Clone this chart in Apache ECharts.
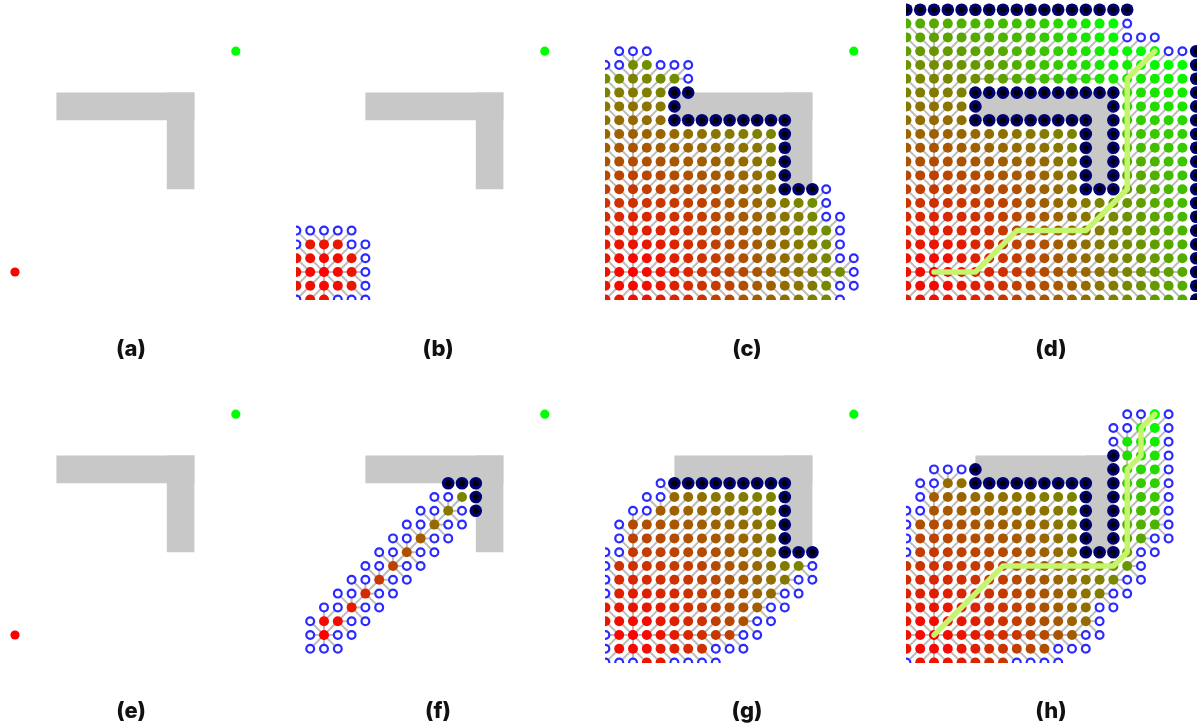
<!DOCTYPE html>
<html>
<head>
<meta charset="utf-8">
<script src="https://cdn.jsdelivr.net/npm/echarts@6/dist/echarts.min.js"></script>
<style>
  html, body { margin: 0; padding: 0; background: #ffffff; }
  #chart { width: 1197px; height: 726px; }
</style>
</head>
<body>
<div id="chart"></div>
<script>
// Grid coordinates: the start node sits at (0,0), the goal at (16,16).
const startNode = [0, 0];
const goalNode = [16, 16];
// Wall blocks as [x0, y0, x1, y1] in grid units (an L-shaped wall).
const wallBlocks = [[3, 11, 13, 13], [11, 6, 13, 13]];

// Node sets are written as row runs: [y, xFrom, xTo].
// (b) Dijkstra, early
const closedB = [[2, -1, 1], [1, -2, 2], [0, -2, 2], [-1, -2, 2], [-2, -1, 0]];
const openB = [[3, -2, 2], [2, -2, -2], [2, 2, 3], [1, 3, 3], [0, 3, 3], [-1, 3, 3], [-2, -2, -2], [-2, 1, 3]];

// (c) Dijkstra, reaching the wall
const closedC = [[15, 0, 1], [14, -2, 3], [13, -2, 2], [12, -2, 2], [11, -2, 2], [10, -2, 10], [9, -2, 10],
  [8, -2, 10], [7, -2, 10], [6, -2, 10], [5, -2, 13], [4, -2, 13], [3, -2, 14], [2, -2, 14], [1, -2, 14],
  [0, -2, 15], [-1, -2, 14], [-2, -2, 14]];
const openC = [[16, -1, 1], [15, -2, -1], [15, 2, 4], [14, 4, 4], [6, 14, 14], [5, 14, 14], [4, 14, 15],
  [3, 15, 15], [2, 15, 15], [1, 15, 16], [0, 16, 16], [-1, 15, 16], [-2, 15, 15]];
const blockedC = [[13, 3, 4], [12, 3, 3], [11, 3, 11], [10, 11, 11], [9, 11, 11], [8, 11, 11], [7, 11, 11], [6, 11, 13]];

// (d) Dijkstra, goal found
const closedD = [[18, -2, 13], [17, -2, 13], [16, -2, 16], [15, -2, 18], [14, -2, 18],
  [13, -2, 2], [13, 14, 18], [12, -2, 2], [12, 14, 18], [11, -2, 2], [11, 14, 18],
  [10, -2, 10], [10, 14, 18], [9, -2, 10], [9, 14, 18], [8, -2, 10], [8, 14, 18], [7, -2, 10], [7, 14, 18],
  [6, -2, 10], [6, 14, 18], [5, -2, 18], [4, -2, 18], [3, -2, 18], [2, -2, 18], [1, -2, 18], [0, -2, 18],
  [-1, -2, 18], [-2, -2, 18]];
const openD = [[18, 14, 14], [17, 14, 16], [16, 17, 18]];
const blockedD = [[19, -2, 14], [16, 19, 19], [15, 19, 19], [14, 19, 19], [13, 3, 13], [13, 19, 19],
  [12, 3, 3], [12, 13, 13], [12, 19, 19], [11, 3, 11], [11, 13, 13], [11, 19, 19],
  [10, 11, 11], [10, 13, 13], [10, 19, 19], [9, 11, 11], [9, 13, 13], [9, 19, 19],
  [8, 11, 11], [8, 13, 13], [8, 19, 19], [7, 11, 11], [7, 13, 13], [7, 19, 19],
  [6, 11, 13], [6, 19, 19], [5, 19, 19], [4, 19, 19], [3, 19, 19], [2, 19, 19], [1, 19, 19],
  [0, 19, 19], [-1, 19, 19], [-2, 19, 19]];
const routeD = [[0, 0], [3, 0], [6, 3], [11, 3], [14, 6], [14, 14], [16, 16]];

// (f) A*, early
const closedF = [[10, 10, 10], [9, 9, 9], [8, 8, 8], [7, 7, 7], [6, 6, 6], [5, 5, 5], [4, 4, 4], [3, 3, 3],
  [2, 2, 2], [1, 0, 1], [0, 0, 0]];
const openF = [[10, 8, 9], [9, 7, 8], [9, 10, 10], [8, 6, 7], [8, 9, 10], [7, 5, 6], [7, 8, 9], [6, 4, 5],
  [6, 7, 8], [5, 3, 4], [5, 6, 7], [4, 2, 3], [4, 5, 6], [3, 1, 2], [3, 4, 5], [2, 0, 1], [2, 3, 4],
  [1, -1, -1], [1, 2, 3], [0, -1, -1], [0, 1, 2], [-1, -1, 1]];
const blockedF = [[11, 9, 11], [10, 11, 11], [9, 11, 11]];

// (g) A*, spreading along the wall
const closedG = [[10, 3, 10], [9, 2, 10], [8, 0, 10], [7, 0, 10], [6, 0, 10], [5, -1, 12], [4, -1, 11],
  [3, -1, 10], [2, -2, 9], [1, -2, 8], [0, -1, 7], [-1, -1, 5], [-2, 1, 2]];
const openG = [[11, 2, 2], [10, 1, 2], [9, 0, 1], [8, -1, -1], [7, -1, -1], [6, -2, -1], [5, -2, -2],
  [5, 13, 13], [4, -2, -2], [4, 12, 13], [3, -2, -2], [3, 11, 12], [2, 10, 11], [1, 9, 10], [0, -2, -2],
  [0, 8, 9], [-1, -2, -2], [-1, 6, 8], [-2, -2, 0], [-2, 3, 6]];
const blockedG = [[11, 3, 11], [10, 11, 11], [9, 11, 11], [8, 11, 11], [7, 11, 11], [6, 11, 13]];

// (h) A*, goal found
const closedH = [[16, 16, 16], [15, 15, 16], [14, 14, 16], [13, 14, 16], [12, 14, 16], [11, 1, 2], [11, 14, 16],
  [10, 0, 10], [10, 14, 16], [9, 0, 10], [9, 14, 16], [8, -1, 10], [8, 14, 16], [7, -1, 10], [7, 14, 15],
  [6, -1, 10], [6, 14, 14], [5, -2, 14], [4, -2, 13], [3, -2, 12], [2, -2, 11], [1, -2, 11], [0, -2, 10],
  [-1, -2, 8], [-2, -1, 5]];
const openH = [[16, 14, 15], [16, 17, 17], [15, 13, 14], [15, 17, 17], [14, 13, 13], [14, 17, 17], [13, 17, 17],
  [12, 0, 2], [12, 17, 17], [11, -1, 0], [11, 17, 17], [10, -1, -1], [10, 17, 17], [9, -2, -1], [9, 17, 17],
  [8, -2, -2], [8, 17, 17], [7, -2, -2], [7, 16, 17], [6, -2, -2], [6, 15, 16], [5, 15, 15], [4, 14, 15],
  [3, 13, 14], [2, 12, 13], [1, 12, 12], [0, 11, 12], [-1, 9, 11], [-2, -2, -2], [-2, 6, 9]];
const blockedH = [[13, 13, 13], [12, 3, 3], [12, 13, 13], [11, 3, 11], [11, 13, 13], [10, 11, 11], [10, 13, 13],
  [9, 11, 11], [9, 13, 13], [8, 11, 11], [8, 13, 13], [7, 11, 11], [7, 13, 13], [6, 11, 13]];
const routeH = [[0, 0], [5, 5], [13, 5], [14, 6], [14, 12], [15, 13], [15, 15], [16, 16]];

const panelLabels = ['(a)', '(b)', '(c)', '(d)', '(e)', '(f)', '(g)', '(h)'];

// ---- layout (pixels) ----
const STEP = 13.8;          // pixels per grid unit
const PANEL_H = 300;
const columns = [
  { left: 0, width: 296, originX: 15, labelX: 131 },
  { left: 296, width: 300, originX: 324, labelX: 438 },
  { left: 605, width: 296, originX: 633, labelX: 747 },
  { left: 906, width: 291, originX: 934, labelX: 1051 }
];
const rows = [
  { top: 0, originY: 272, labelY: 349 },
  { top: 363, originY: 635, labelY: 711 }
];

const panels = [
  { closed: [], open: [], blocked: [], route: null },
  { closed: closedB, open: openB, blocked: [], route: null },
  { closed: closedC, open: openC, blocked: blockedC, route: null },
  { closed: closedD, open: openD, blocked: blockedD, route: routeD },
  { closed: [], open: [], blocked: [], route: null },
  { closed: closedF, open: openF, blocked: blockedF, route: null },
  { closed: closedG, open: openG, blocked: blockedG, route: null },
  { closed: closedH, open: openH, blocked: blockedH, route: routeH }
];

function expandRuns(runs) {
  const out = [];
  runs.forEach(([y, a, b]) => { for (let x = a; x <= b; x++) out.push([x, y]); });
  return out;
}

function isWall(x, y) {
  return wallBlocks.some(([x0, y0, x1, y1]) => x >= x0 && x <= x1 && y >= y0 && y <= y1);
}

// travel cost from the start over the free grid (8 moves), used to shade expanded nodes
const costFromStart = (function () {
  const lo = -4, hi = 20, n = hi - lo + 1;
  const dist = new Array(n * n).fill(Infinity), done = new Array(n * n).fill(false);
  const idx = (x, y) => (y - lo) * n + (x - lo);
  dist[idx(startNode[0], startNode[1])] = 0;
  for (;;) {
    let best = -1;
    for (let i = 0; i < dist.length; i++) if (!done[i] && dist[i] < Infinity && (best < 0 || dist[i] < dist[best])) best = i;
    if (best < 0) break;
    done[best] = true;
    const bx = best % n + lo, by = Math.floor(best / n) + lo;
    for (let dx = -1; dx <= 1; dx++) for (let dy = -1; dy <= 1; dy++) {
      if (!dx && !dy) continue;
      const nx = bx + dx, ny = by + dy;
      if (nx < lo || nx > hi || ny < lo || ny > hi || isWall(nx, ny)) continue;
      const c = dist[best] + (dx && dy ? Math.SQRT2 : 1);
      if (c < dist[idx(nx, ny)]) dist[idx(nx, ny)] = c;
    }
  }
  return (x, y) => dist[idx(x, y)];
})();
const routeCost = costFromStart(goalNode[0], goalNode[1]);

// closed-node colour: red at the start, fading to green at the goal's cost
function heatColor(x, y) {
  const t = Math.min(1, costFromStart(x, y) / routeCost);
  return 'rgb(' + Math.round(255 * (1 - t)) + ',' + Math.round(255 * t) + ',0)';
}

function octile(x, y) {
  const ax = Math.abs(x), ay = Math.abs(y);
  return Math.max(ax, ay) + (Math.SQRT2 - 1) * Math.min(ax, ay);
}

// search-tree links: each node points back to its cheapest expanded neighbour
function treeLinks(closedPts, openPts) {
  const keys = new Set(closedPts.map(p => p[0] + ',' + p[1]));
  const links = [];
  const dirs = [[-1, -1], [1, -1], [-1, 1], [1, 1], [-1, 0], [1, 0], [0, -1], [0, 1]];
  closedPts.concat(openPts).forEach(([x, y]) => {
    if (x === startNode[0] && y === startNode[1]) return;
    let best = null, bestCost = Infinity;
    dirs.forEach(([dx, dy]) => {
      const nx = x + dx, ny = y + dy;
      if (!keys.has(nx + ',' + ny)) return;
      const c = costFromStart(nx, ny) + (dx && dy ? Math.SQRT2 : 1);
      if (c < bestCost - 1e-9) { bestCost = c; best = [nx, ny]; }
    });
    if (best) links.push([x, y, best[0], best[1]]);
  });
  return links;
}

function renderWall(params, api) {
  const p0 = api.coord([api.value(0), api.value(3)]);
  const p1 = api.coord([api.value(2), api.value(1)]);
  return { type: 'rect', shape: { x: p0[0], y: p0[1], width: p1[0] - p0[0], height: p1[1] - p0[1] },
    style: { fill: '#c8c8c8' } };
}

function renderLink(params, api) {
  const a = api.coord([api.value(0), api.value(1)]);
  const b = api.coord([api.value(2), api.value(3)]);
  return { type: 'line', shape: { x1: a[0], y1: a[1], x2: b[0], y2: b[1] },
    style: { stroke: '#bdbdbd', lineWidth: 2 } };
}

function renderNode(params, api) {
  const x = api.value(0), y = api.value(1), kind = api.value(2);
  const p = api.coord([x, y]);
  if (kind === 0) {
    return { type: 'circle', shape: { cx: p[0], cy: p[1], r: 5 }, style: { fill: heatColor(x, y) } };
  }
  if (kind === 1) {
    return { type: 'circle', shape: { cx: p[0], cy: p[1], r: 3.9 },
      style: { fill: '#ffffff', stroke: '#2a2aff', lineWidth: 2.2 } };
  }
  return { type: 'group', children: [
    { type: 'circle', shape: { cx: p[0], cy: p[1], r: 6.3 }, style: { fill: '#000070' } },
    { type: 'circle', shape: { cx: p[0], cy: p[1], r: 3 }, style: { fill: '#000000' } }
  ] };
}

function renderMarker(params, api) {
  const p = api.coord([api.value(0), api.value(1)]);
  return { type: 'circle', shape: { cx: p[0], cy: p[1], r: 4.6 },
    style: { fill: api.value(2) === 0 ? '#ff0000' : '#00ff00' } };
}

const grids = [], xAxes = [], yAxes = [], series = [], graphics = [];
panels.forEach((pd, i) => {
  const col = columns[i % 4], row = rows[Math.floor(i / 4)];
  grids.push({ left: col.left, top: row.top, width: col.width, height: PANEL_H });
  xAxes.push({ type: 'value', gridIndex: i, show: false,
    min: -(col.originX - col.left) / STEP, max: (col.left + col.width - col.originX) / STEP });
  yAxes.push({ type: 'value', gridIndex: i, show: false,
    min: -(row.top + PANEL_H - row.originY) / STEP, max: (row.originY - row.top) / STEP });

  const closedPts = expandRuns(pd.closed);
  const openPts = expandRuns(pd.open);
  const blockedPts = expandRuns(pd.blocked);
  const axes = { xAxisIndex: i, yAxisIndex: i };

  series.push(Object.assign({ type: 'custom', name: 'wall', clip: true, z: 1,
    renderItem: renderWall, data: wallBlocks }, axes));
  series.push(Object.assign({ type: 'custom', name: 'links', clip: true, z: 2,
    renderItem: renderLink, data: treeLinks(closedPts, openPts) }, axes));
  series.push(Object.assign({ type: 'custom', name: 'ends', clip: true, z: 3,
    renderItem: renderMarker, data: [[startNode[0], startNode[1], 0], [goalNode[0], goalNode[1], 1]] }, axes));
  const nodes = closedPts.map(p => [p[0], p[1], 0])
    .concat(openPts.map(p => [p[0], p[1], 1]))
    .concat(blockedPts.map(p => [p[0], p[1], 2]));
  series.push(Object.assign({ type: 'custom', name: 'nodes', clip: true, z: 4,
    renderItem: renderNode, data: nodes }, axes));
  if (pd.route) {
    series.push(Object.assign({ type: 'line', name: 'route', z: 5, clip: true, symbol: 'none',
      data: pd.route, lineStyle: { color: '#c5f56c', width: 5.5, cap: 'round', join: 'round' } }, axes));
  }

  graphics.push({ type: 'text', x: col.labelX, y: row.labelY,
    style: { text: panelLabels[i], fill: '#111111', align: 'center', verticalAlign: 'middle',
      font: '800 22px Inter, Roboto, "DejaVu Sans", sans-serif' } });
});

const chart = echarts.init(document.getElementById('chart'), null, { renderer: 'canvas' });
chart.setOption({
  animation: false,
  backgroundColor: '#ffffff',
  grid: grids,
  xAxis: xAxes,
  yAxis: yAxes,
  series: series,
  graphic: graphics
});
</script>
</body>
</html>
